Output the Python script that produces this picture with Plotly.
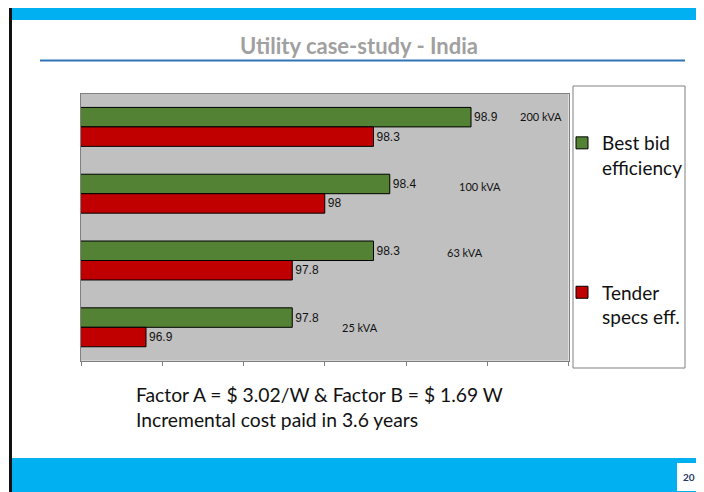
import plotly.graph_objects as go

# ---- data ----
categories = ["200 kVA", "100 kVA", "63 kVA", "25 kVA"]
best_bid = [98.9, 98.4, 98.3, 97.8]
tender_specs = [98.3, 98.0, 97.8, 96.9]
series_names = ["Best bid<br>efficiency", "Tender<br>specs eff."]
title_text = "Utility case-study - India"
note_lines = ["Factor A = $ 3.02/W & Factor B = $ 1.69 W",
              "Incremental cost paid in 3.6 years"]
page_number = "20"

# the page body adds an 8px margin; lay the figure out in window pixels
OFF = 8
W, H = 704 - OFF, 492 - OFF


def px(x):
    return (x - OFF) / W


def py(y):
    return 1 - (y - OFF) / H


fig = go.Figure()
fig.add_trace(go.Bar(
    y=categories, x=best_bid, orientation="h", name=series_names[0],
    legendgroup="a",
    marker=dict(color="#548235", line=dict(color="#000000", width=1)),
    texttemplate="%{x}", textposition="outside", constraintext="none",
    cliponaxis=False,
    textfont=dict(family="Liberation Sans, Arial", size=12, color="#111111"),
))
fig.add_trace(go.Bar(
    y=categories, x=tender_specs, orientation="h", name=series_names[1],
    legendgroup="b",
    marker=dict(color="#c00000", line=dict(color="#000000", width=1)),
    texttemplate="%{x}", textposition="outside", constraintext="none",
    cliponaxis=False,
    textfont=dict(family="Liberation Sans, Arial", size=12, color="#111111"),
))


def rect(x0, y0, x1, y1, **kw):
    d = dict(type="rect", xref="paper", yref="paper",
             x0=px(x0), x1=px(x1), y0=py(y1), y1=py(y0))
    d.update(kw)
    return d


shapes = [
    # slide frame and bands
    rect(12, 8, 704, 20, fillcolor="#00b0f0", line=dict(width=0)),
    rect(9, 8, 12, 492, fillcolor="#111111", line=dict(width=0)),
    rect(12, 458, 704, 492, fillcolor="#00b0f0", line=dict(width=0)),
    rect(677, 463, 704, 491, fillcolor="#ffffff", line=dict(width=0)),
    dict(type="line", xref="paper", yref="paper",
         x0=px(40), x1=px(685), y0=py(60.5), y1=py(60.5),
         line=dict(color="#2e75b6", width=2)),
    # legend frame
    rect(573, 86, 685, 368, fillcolor="#ffffff",
         line=dict(color="#808080", width=1), layer="below"),
]

annotations = [
    dict(text="<b>" + title_text + "</b>", x=px(359), y=py(45), xref="paper", yref="paper",
         showarrow=False, xanchor="center", yanchor="middle",
         font=dict(family="Lato", size=22, color="#a0a0a0")),
    dict(text=note_lines[0], x=px(134), y=py(394), xref="paper", yref="paper",
         showarrow=False, xanchor="left", yanchor="middle",
         font=dict(family="Lato", size=19.3, color="#111111")),
    dict(text=note_lines[1], x=px(134), y=py(419), xref="paper", yref="paper",
         showarrow=False, xanchor="left", yanchor="middle",
         font=dict(family="Lato", size=19.3, color="#111111")),
    dict(text="<b>" + page_number + "</b>", x=px(689), y=py(477), xref="paper", yref="paper",
         showarrow=False, xanchor="center", yanchor="middle",
         font=dict(family="Lato", size=10, color="#1f3864")),
]

# category labels placed beside the bars (as in the original)
label_px = [(541, 117), (480, 187), (465, 252), (360, 327)]
for cat, (lx, ly) in zip(categories, label_px):
    annotations.append(dict(text=cat, x=px(lx), y=py(ly), xref="paper", yref="paper",
                            showarrow=False, xanchor="center", yanchor="middle",
                            font=dict(family="Lato", size=11, color="#111111")))

fig.update_layout(
    width=W, height=H, autosize=False,
    margin=dict(l=0, r=0, t=0, b=0),
    paper_bgcolor="#ffffff", plot_bgcolor="#c0c0c0",
    barmode="group", bargap=0.417, bargroupgap=0,
    xaxis=dict(domain=[px(81), px(568.5)], range=[96.5, 99.5], tick0=96.5, dtick=0.5,
               showticklabels=False, ticks="outside", ticklen=4, tickcolor="#808080",
               showgrid=False, zeroline=False, showline=True, mirror=True,
               linecolor="#808080", linewidth=1, fixedrange=True),
    yaxis=dict(domain=[py(360.7), py(93.5)], type="category", range=[3.5, -0.5],
               showticklabels=False, ticks="", showgrid=False, zeroline=False,
               showline=True, mirror=True, linecolor="#808080", linewidth=1,
               fixedrange=True),
    showlegend=True,
    legend=dict(x=px(562), y=py(124), xanchor="left", yanchor="top",
                bgcolor="rgba(0,0,0,0)", borderwidth=0,
                traceorder="grouped", tracegroupgap=97, valign="top",
                font=dict(family="Lato", size=19, color="#111111")),
    shapes=shapes,
    annotations=annotations,
)

fig.write_html("out.html")
